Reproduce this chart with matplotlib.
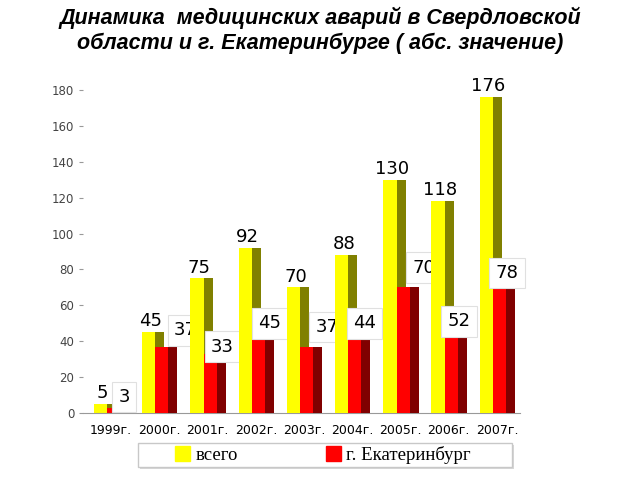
import matplotlib
matplotlib.use("Agg")
import matplotlib.pyplot as plt
from matplotlib.patches import Patch, Rectangle

# data
years = ["1999г.", "2000г.", "2001г.", "2002г.", "2003г.",
         "2004г.", "2005г.", "2006г.", "2007г."]
total = [5, 45, 75, 92, 70, 88, 130, 118, 176]
city = [3, 37, 33, 45, 37, 44, 70, 52, 78]

# label placement for the city values (offset from group centre, y in data units)
city_lab_dx = [0.27, 0.54, 0.31, 0.29, 0.48, 0.25, 0.48, 0.21, 0.21]
city_lab_y = [9, 46, 37, 50, 48, 50, 81, 51, 78]

YEL, OLIVE = "#ffff00", "#808000"
RED, DRED = "#ff0000", "#800000"

fig = plt.figure(figsize=(6.4, 4.8), dpi=100)
ax = fig.add_axes([0.130, 0.1396, 0.6828, 0.6729])

xs = list(range(len(years)))
for i, x in enumerate(xs):
    z = 2 + 2 * i
    # pseudo-3d: front face + darker side face
    ax.bar(x - 0.36, total[i], width=0.277, align="edge", color=YEL, zorder=z)
    ax.bar(x - 0.083, total[i], width=0.187, align="edge", color=OLIVE, zorder=z)
    ax.bar(x - 0.083, city[i], width=0.27, align="edge", color=RED, zorder=z)
    ax.bar(x + 0.187, city[i], width=0.186, align="edge", color=DRED, zorder=z)
    ax.text(x - 0.18, total[i] + 1, str(total[i]), ha="center", va="bottom",
            fontsize=13, zorder=z + 1, clip_on=False)
    ax.text(x + city_lab_dx[i], city_lab_y[i], str(city[i]), ha="center", va="center",
            fontsize=13, zorder=z + 1,
            bbox=dict(boxstyle="square,pad=0.35", fc="white", ec="#e0e0e0", lw=0.8))

ax.set_xlim(-0.58, 8.48)
ax.set_ylim(0, 180)
ax.set_yticks(range(0, 181, 20))
ax.set_xticks(xs)
ax.set_xticklabels(years, fontsize=9)
ax.tick_params(axis="x", length=0, pad=8)
ax.tick_params(axis="y", length=3, color="#999999", labelsize=8.5, labelcolor="#444444")
for s in ["top", "right", "left"]:
    ax.spines[s].set_visible(False)
ax.spines["bottom"].set_color("#999999")

title_kw = dict(ha="center", va="center", fontsize=15.5, fontweight="bold",
                style="italic", family="Liberation Sans")
fig.text(0.5, 0.9625, "Динамика  медицинских аварий в Свердловской", **title_kw)
fig.text(0.5, 0.910, "области и г. Екатеринбурге ( абс. значение)", **title_kw)

# legend box with a light shadow
fig.patches.append(Rectangle((0.219, 0.0229), 0.5844, 0.05, transform=fig.transFigure,
                             fc="#d8d8d8", ec="none", zorder=0))
fig.patches.append(Rectangle((0.2156, 0.0271), 0.5844, 0.05, transform=fig.transFigure,
                             fc="white", ec="#c8c8c8", lw=1.0, zorder=1))
handles = [Patch(color=YEL, label="всего"), Patch(color=RED, label="г. Екатеринбург")]
fig.legend(handles=handles, loc="center", bbox_to_anchor=(0.5045, 0.052),
           ncol=2, frameon=False, columnspacing=4.7,
           handlelength=0.8, handleheight=0.8, handletextpad=0.3,
           prop={"family": "Liberation Serif", "size": 13.5})

fig.savefig("out.png", dpi=100)
